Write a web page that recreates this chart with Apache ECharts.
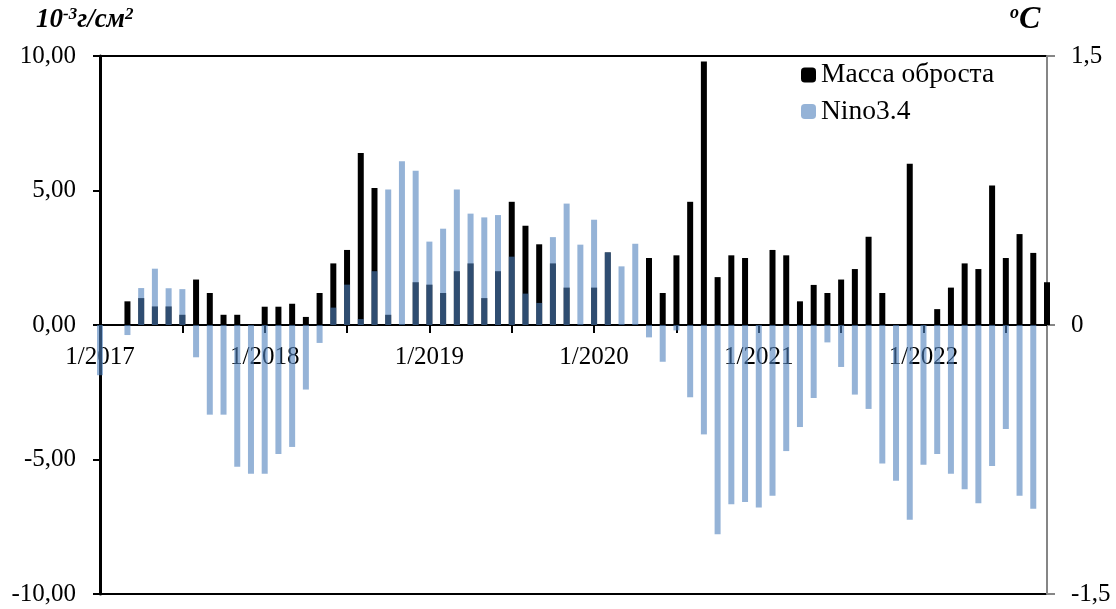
<!DOCTYPE html>
<html>
<head>
<meta charset="utf-8">
<script src="https://cdn.jsdelivr.net/npm/echarts@6/dist/echarts.min.js"></script>
<style>
  html, body { margin: 0; padding: 0; background: #fff; }
  #chart { width: 1116px; height: 609px; }
</style>
</head>
<body>
<div id="chart"></div>
<script>
  // месяцы, янв 2017 - окт 2022
  var months = [
    '1/2017', '2/2017', '3/2017', '4/2017', '5/2017', '6/2017', '7/2017', '8/2017', '9/2017', '10/2017', '11/2017', '12/2017',
    '1/2018', '2/2018', '3/2018', '4/2018', '5/2018', '6/2018', '7/2018', '8/2018', '9/2018', '10/2018', '11/2018', '12/2018',
    '1/2019', '2/2019', '3/2019', '4/2019', '5/2019', '6/2019', '7/2019', '8/2019', '9/2019', '10/2019', '11/2019', '12/2019',
    '1/2020', '2/2020', '3/2020', '4/2020', '5/2020', '6/2020', '7/2020', '8/2020', '9/2020', '10/2020', '11/2020', '12/2020',
    '1/2021', '2/2021', '3/2021', '4/2021', '5/2021', '6/2021', '7/2021', '8/2021', '9/2021', '10/2021', '11/2021', '12/2021',
    '1/2022', '2/2022', '3/2022', '4/2022', '5/2022', '6/2022', '7/2022', '8/2022', '9/2022', '10/2022'
  ];

  // масса обрастания, 10^-3 г/см2
  var massa = [
    0, 0, 0.88, 1.0, 0.69, 0.69, 0.38, 1.69, 1.19, 0.38, 0.38, 0,
    0.68, 0.68, 0.79, 0.30, 1.19, 2.29, 2.79, 6.39, 5.09, 0.38, 0, 1.59,
    1.5, 1.19, 2.0, 2.29, 1.0, 2.0, 4.58, 3.69, 3.0, 2.29, 1.39, 0,
    1.39, 2.7, 0, 0, 2.49, 1.19, 2.59, 4.58, 9.80, 1.78, 2.59, 2.49,
    0, 2.79, 2.59, 0.88, 1.49, 1.19, 1.69, 2.08, 3.28, 1.19, 0, 5.99,
    0, 0.59, 1.39, 2.29, 2.08, 5.19, 2.49, 3.38, 2.68, 1.59
  ];

  // индекс Nino3.4, ºC
  var nino = [
    -0.28, null, -0.056, 0.206, 0.314, 0.205, 0.20, -0.18, -0.50, -0.50, -0.79, -0.83,
    -0.83, -0.72, -0.68, -0.36, -0.10, 0.097, 0.225, 0.033, 0.30, 0.755, 0.913, 0.86,
    0.465, 0.537, 0.755, 0.621, 0.60, 0.613, 0.381, 0.175, 0.123, 0.49, 0.677, 0.448,
    0.587, 0.405, 0.327, 0.453, -0.069, -0.205, -0.03, -0.403, -0.61, -1.167, -1.0, -0.987,
    -1.017, -0.952, -0.703, -0.569, -0.407, -0.097, -0.234, -0.388, -0.468, -0.773, -0.868, -1.086,
    -0.779, -0.719, -0.829, -0.916, -0.994, -0.786, -0.58, -0.952, -1.024, null
  ];

  var font = 'Liberation Serif';

  var myChart = echarts.init(document.getElementById('chart'));
  myChart.setOption({
    animation: false,
    title: [{
      text: '{a|10}{s|-3}{a|г/см}{s|2}',
      left: 36,
      top: 6,
      padding: 0,
      textStyle: {
        rich: {
          a: { fontFamily: font, fontSize: 27, fontWeight: 'bold', fontStyle: 'italic', color: '#000', lineHeight: 28 },
          s: { fontFamily: font, fontSize: 17, fontWeight: 'bold', fontStyle: 'italic', color: '#000', verticalAlign: 'top', lineHeight: 17 }
        }
      }
    }, {
      text: '{s|o}{a|C}',
      left: 1010,
      top: 4,
      padding: 0,
      textStyle: {
        rich: {
          a: { fontFamily: font, fontSize: 32, fontWeight: 'bold', fontStyle: 'italic', color: '#000', lineHeight: 32 },
          s: { fontFamily: font, fontSize: 18, fontWeight: 'bold', fontStyle: 'italic', color: '#000', verticalAlign: 'top', lineHeight: 18 }
        }
      }
    }],
    legend: {
      orient: 'vertical',
      left: 801,
      top: 61,
      padding: 0,
      itemWidth: 15,
      itemHeight: 15,
      itemGap: 8.5,
      textStyle: { fontFamily: font, fontSize: 27.5, color: '#000' },
      data: ['Масса оброста', 'Nino3.4']
    },
    grid: {
      left: 100,
      right: 69,
      top: 56,
      bottom: 15,
      outerBoundsMode: 'none',
      show: true,
      borderColor: '#000',
      borderWidth: 2
    },
    xAxis: {
      type: 'category',
      data: months,
      boundaryGap: false,
      axisLine: { onZero: true, lineStyle: { color: '#000', width: 2 } },
      axisTick: {
        show: true,
        length: 8,
        interval: function (i) { return i % 6 === 0; },
        lineStyle: { color: '#000', width: 2 }
      },
      axisLabel: {
        interval: function (i) { return i % 12 === 0; },
        margin: -249,
        fontFamily: font,
        fontSize: 25,
        color: '#000'
      },
      splitLine: { show: false }
    },
    yAxis: [{
      type: 'value',
      min: -10,
      max: 10,
      interval: 5,
      axisLine: { show: true, lineStyle: { color: '#000', width: 3 } },
      axisTick: { show: true, length: 7, lineStyle: { color: '#000', width: 2 } },
      axisLabel: {
        margin: 24,
        fontFamily: font,
        fontSize: 25,
        color: '#000',
        formatter: function (v) { return v.toFixed(2).replace('.', ','); }
      },
      splitLine: { show: false }
    }, {
      type: 'value',
      min: -1.5,
      max: 1.5,
      interval: 1.5,
      position: 'right',
      axisLine: { show: true, onZero: false, lineStyle: { color: '#868686', width: 2 } },
      axisTick: { show: true, length: 8, lineStyle: { color: '#868686', width: 2 } },
      axisLabel: {
        margin: 24,
        fontFamily: font,
        fontSize: 25,
        color: '#000',
        formatter: function (v) { return String(v).replace('.', ','); }
      },
      splitLine: { show: false }
    }],
    series: [{
      name: 'Масса оброста',
      type: 'bar',
      yAxisIndex: 0,
      barWidth: 6,
      barGap: '-100%',
      itemStyle: { color: '#000' },
      data: massa
    }, {
      name: 'Nino3.4',
      type: 'bar',
      yAxisIndex: 1,
      barWidth: 6,
      barGap: '-100%',
      itemStyle: { color: 'rgba(79,129,189,0.6)' },
      data: nino
    }]
  });
</script>
</body>
</html>
